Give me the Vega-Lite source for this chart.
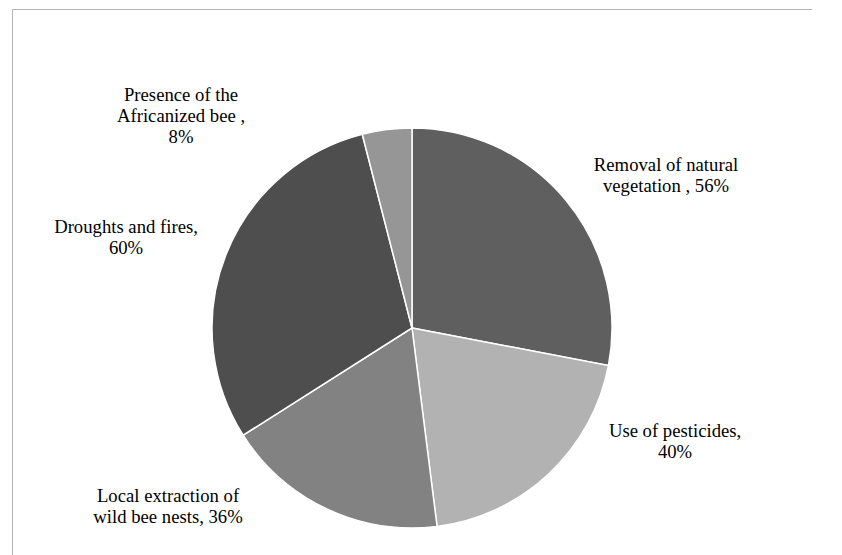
{
  "$schema": "https://vega.github.io/schema/vega-lite/v6.json",
  "autosize": {"type": "none"},
  "padding": {"left": 12, "top": 9, "right": 0, "bottom": 0},
  "width": 800,
  "height": 638,
  "background": "white",
  "config": {"view": {"stroke": "#b3b3b3", "strokeWidth": 1, "strokeDash": [800, 1438, 638], "strokeDashOffset": 0}},
  "view": {"stroke": "#b3b3b3", "strokeWidth": 1, "fill": "white", "strokeDash": [800, 1438, 638], "strokeDashOffset": 0},
  "data": {
    "values": [
      {"cause": "Removal of natural vegetation", "label": "Removal of natural\nvegetation , 56%", "value": 56, "order": 1},
      {"cause": "Use of pesticides", "label": "Use of pesticides,\n40%", "value": 40, "order": 2},
      {"cause": "Local extraction of wild bee nests", "label": "Local extraction of\nwild bee nests, 36%", "value": 36, "order": 3},
      {"cause": "Droughts and fires", "label": "Droughts and fires,\n60%", "value": 60, "order": 4},
      {"cause": "Presence of the Africanized bee", "label": "Presence of the\nAfricanized bee ,\n8%", "value": 8, "order": 5}
    ]
  },
  "encoding": {
    "theta": {"field": "value", "type": "quantitative", "stack": true},
    "order": {"field": "order", "type": "quantitative", "sort": "ascending"}
  },
  "layer": [
    {
      "mark": {"type": "arc", "outerRadius": 200, "stroke": "white", "strokeWidth": 1.5},
      "encoding": {
        "color": {
          "field": "cause",
          "type": "nominal",
          "scale": {
            "domain": ["Removal of natural vegetation", "Use of pesticides", "Local extraction of wild bee nests", "Droughts and fires", "Presence of the Africanized bee"],
            "range": ["#5f5f5f", "#b2b2b2", "#828282", "#4e4e4e", "#969696"]
          },
          "legend": null
        }
      }
    },
    {
      "mark": {
        "type": "text",
        "radius": 255,
        "font": "Liberation Serif",
        "fontSize": 18.7,
        "lineHeight": 21,
        "lineBreak": "\n",
        "align": "center",
        "baseline": "alphabetic",
        "color": "black",
        "dx": {"expr": "datum.order == 1 ? 57.5 : datum.order == 2 ? 88.5 : datum.order == 3 ? -135.4 : datum.order == 4 ? -48.9 : -199"},
        "dy": {"expr": "datum.order == 1 ? 5.5 : datum.order == 2 ? -77 : datum.order == 3 ? -56.7 : datum.order == 4 ? -1.1 : 26"}
      },
      "encoding": {
        "text": {"field": "label", "type": "nominal"}
      }
    }
  ]
}
